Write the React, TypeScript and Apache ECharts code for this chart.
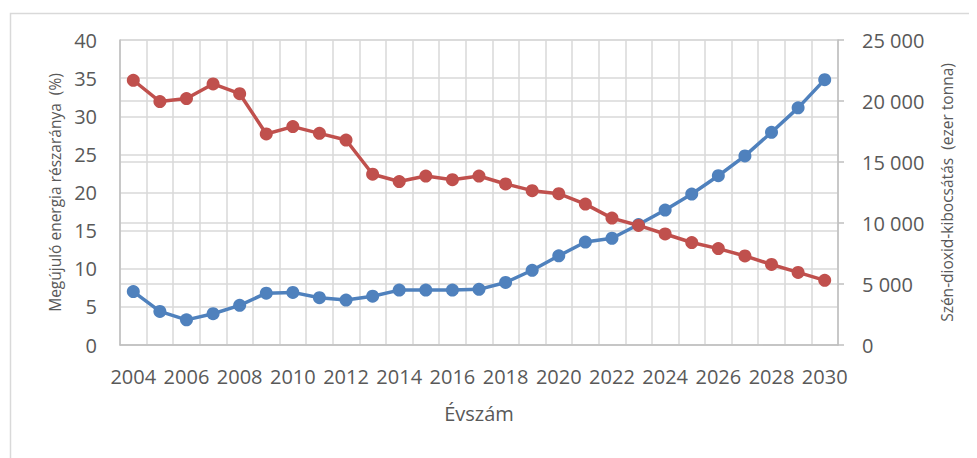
import React, { useEffect, useRef } from "react";
import * as echarts from "echarts";

const years: string[] = [
  "2004", "2005", "2006", "2007", "2008", "2009", "2010", "2011", "2012",
  "2013", "2014", "2015", "2016", "2017", "2018", "2019", "2020", "2021",
  "2022", "2023", "2024", "2025", "2026", "2027", "2028", "2029", "2030",
];

// Megújuló energia részaránya (%) – left axis
const renewableShare: number[] = [
  7.0, 4.4, 3.3, 4.1, 5.2, 6.8, 6.9, 6.2, 5.9,
  6.4, 7.2, 7.2, 7.2, 7.3, 8.2, 9.8, 11.7, 13.5,
  14.0, 15.8, 17.7, 19.8, 22.2, 24.8, 27.9, 31.1, 34.8,
];

// Szén-dioxid-kibocsátás (ezer tonna) – right axis
const co2Emission: number[] = [
  21700, 19950, 20200, 21400, 20600, 17300, 17900, 17350, 16800,
  14000, 13400, 13850, 13550, 13850, 13200, 12650, 12400, 11550,
  10400, 9800, 9100, 8400, 7900, 7300, 6600, 5950, 5300,
];

const leftTicks = { min: 0, max: 40, interval: 5 };
const rightTicks = { min: 0, max: 25000, interval: 5000 };

const FONT = "'Open Sans', sans-serif";
const TEXT = "#595959";
const GRID = "#d9d9d9";
const AXIS = "#bfbfbf";

const fmtThousands = (v: number) =>
  String(v).replace(/\B(?=(\d{3})+(?!\d))/g, " ");

export default function App() {
  const ref = useRef<HTMLDivElement>(null);
  useEffect(() => {
    if (!ref.current) return;
    const chart = echarts.init(ref.current, undefined, { renderer: "svg" });
    chart.setOption({
      animation: false,
      backgroundColor: "#ffffff",
      textStyle: { fontFamily: FONT },
      graphic: [
        {
          type: "rect",
          left: 0,
          top: 3,
          shape: { x: 0.5, y: 0.5, width: 1100, height: 600 },
          style: { fill: "none", stroke: GRID, lineWidth: 1.5 },
          silent: true,
        },
      ],
      grid: { left: 112, top: 32, width: 718, height: 305, containLabel: false },
      xAxis: {
        type: "category",
        data: years,
        boundaryGap: true,
        name: "Évszám",
        nameLocation: "middle",
        nameGap: 58,
        nameTextStyle: { color: TEXT, fontSize: 20, fontFamily: FONT },
        axisLine: { show: true, lineStyle: { color: AXIS, width: 1.5 } },
        axisTick: { show: false },
        axisLabel: {
          interval: 1,
          color: TEXT,
          fontSize: 20,
          fontFamily: FONT,
          margin: 21,
        },
        splitLine: { show: true, interval: 0, lineStyle: { color: GRID, width: 1.5 } },
      },
      yAxis: [
        {
          type: "value",
          position: "left",
          ...leftTicks,
          name: "Megújuló energia részaránya  (%)",
          nameLocation: "middle",
          nameRotate: 90,
          nameGap: 54,
          nameTextStyle: { color: TEXT, fontSize: 15.5, fontFamily: FONT },
          axisLine: { show: true, lineStyle: { color: AXIS, width: 1.5 } },
          axisTick: { show: false },
          axisLabel: { color: TEXT, fontSize: 20, fontFamily: FONT, margin: 23 },
          splitLine: { show: true, lineStyle: { color: GRID, width: 1.5 } },
        },
        {
          type: "value",
          position: "right",
          ...rightTicks,
          name: "Szén-dioxid-kibocsátás  (ezer tonna)",
          nameLocation: "middle",
          nameRotate: 90,
          nameGap: 101,
          nameTextStyle: { color: TEXT, fontSize: 15.5, fontFamily: FONT },
          axisLine: { show: true, lineStyle: { color: AXIS, width: 1.5 } },
          axisTick: { show: true, inside: false, length: 6, lineStyle: { color: AXIS, width: 1.5 } },
          axisLabel: {
            color: TEXT,
            fontSize: 20,
            fontFamily: FONT,
            margin: 24,
            formatter: (v: number) => fmtThousands(v),
          },
          splitLine: { show: true, lineStyle: { color: GRID, width: 1.5 } },
        },
      ],
      series: [
        {
          name: "Megújuló energia részaránya (%)",
          type: "line",
          yAxisIndex: 0,
          data: renewableShare,
          symbol: "circle",
          symbolSize: 13,
          lineStyle: { color: "#4F81BD", width: 3.5 },
          itemStyle: { color: "#4F81BD" },
          z: 3,
        },
        {
          name: "Szén-dioxid-kibocsátás (ezer tonna)",
          type: "line",
          yAxisIndex: 1,
          data: co2Emission,
          symbol: "circle",
          symbolSize: 13,
          lineStyle: { color: "#C0504D", width: 3.5 },
          itemStyle: { color: "#C0504D" },
          z: 4,
        },
      ],
    });
    return () => chart.dispose();
  }, []);
  return <div ref={ref} style={{ width: 969, height: 450 }} />;
}
